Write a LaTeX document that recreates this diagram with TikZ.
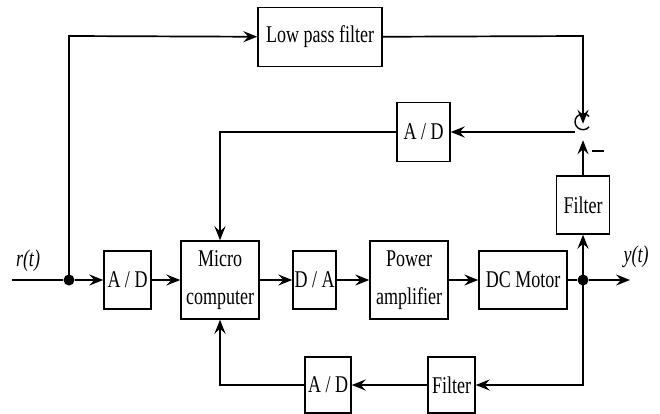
\documentclass[tikz,border=0pt]{standalone}
\usepackage{fontspec}
\setmainfont{Liberation Serif}[FakeStretch=0.75]
\usetikzlibrary{arrows.meta}
\begin{document}
\begin{tikzpicture}[x=1pt,y=-1pt,
  blk/.style={draw,line width=1.4pt,inner sep=0pt,align=center,
    font=\fontsize{24}{38}\selectfont},
  wire/.style={line width=1.7pt},
  arr/.style={wire,-{Stealth[length=14pt,width=11pt,inset=5pt]}},
  dot/.style={circle,fill=black,inner sep=0pt,minimum size=11pt},
  lbl/.style={font=\fontsize{24}{24}\selectfont\itshape}]
\useasboundingbox (0,0) rectangle (660,414);
% blocks
\node[blk,minimum width=47pt,minimum height=58pt] (adin) at (127.5,280) {A / D};
\node[blk,minimum width=78pt,minimum height=78pt] (micro) at (220,280) {Micro\\computer};
\node[blk,minimum width=43pt,minimum height=58pt] (da) at (314.5,280) {D / A};
\node[blk,minimum width=78pt,minimum height=78pt] (pa) at (409,280) {Power\\amplifier};
\node[blk,minimum width=88pt,minimum height=58pt] (dc) at (523,280) {DC Motor};
\node[blk,minimum width=124pt,minimum height=59pt] (lpf) at (320,37) {Low pass filter};
\node[blk,minimum width=53pt,minimum height=59pt] (adtop) at (423.5,132) {A / D};
\node[blk,minimum width=53pt,minimum height=58pt] (filtr) at (583,205) {Filter};
\node[blk,minimum width=47pt,minimum height=56pt] (filtb) at (451.5,385) {Filter};
\node[blk,minimum width=46pt,minimum height=56pt] (adb) at (328,385) {A / D};
% junctions
\node[dot] (jin) at (69,280) {};
\node[dot] (jout) at (583,280) {};
\node[circle,minimum size=16pt,inner sep=0pt] (sum) at (583,132) {};
\draw[line width=1.4pt] ([shift={(40:8pt)}]sum.center) arc[start angle=-40,end angle=-320,radius=8pt];
\coordinate (rin) at (12,280);
\coordinate (yout) at (630,280);
\coordinate (tl) at (69,36);
\coordinate (tr) at (583,36);
\coordinate (bl) at (220,385);
\coordinate (br) at (583,385);
\coordinate (ml) at (220,132);
% labels
\node[lbl] (rl) at (28,261) {r(t)};
\node[lbl] (yl) at (636,257) {y(t)};
\node[inner sep=0pt] (minus) at (598,151) {\rule{12pt}{1.6pt}};
% forward path
\draw[wire] (rin) -- (jin);
\draw[arr] (jin) -- (adin);
\draw[arr] (adin) -- (micro);
\draw[arr] (micro) -- (da);
\draw[arr] (da) -- (pa);
\draw[arr] (pa) -- (dc);
\draw[wire] (dc) -- (jout);
\draw[arr] (jout) -- (yout);
% reference path
\draw[arr] (jin.center) -- (tl) -- (lpf);
\draw[arr] (lpf) -- (tr) -- (sum.north);
% output feedback to sum
\draw[arr] (jout.center) -- (filtr);
\draw[arr] (filtr) -- (sum.south);
\draw[arr] (sum.west) -- (adtop);
\draw[arr] (adtop) -- (ml) -- (micro);
% bottom feedback
\draw[arr] (jout.center) -- (br) -- (filtb);
\draw[arr] (filtb) -- (adb);
\draw[arr] (adb) -- (bl) -- (micro);
\end{tikzpicture}
\end{document}
